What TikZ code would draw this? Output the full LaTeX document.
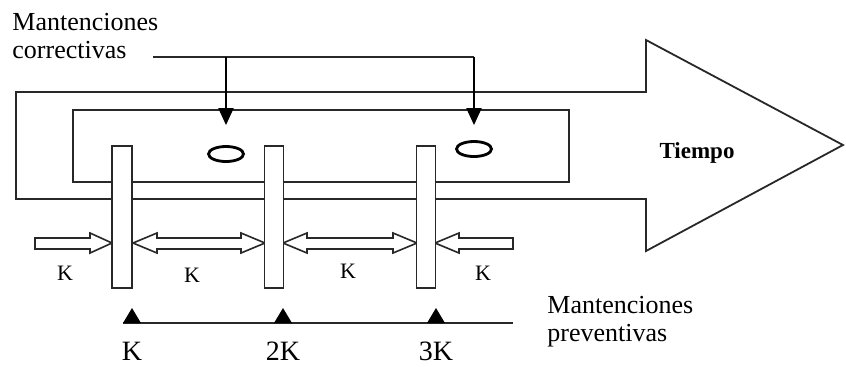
\documentclass[tikz,border=0pt]{standalone}
\usepackage{fontspec}
\setmainfont{Liberation Serif}
\usetikzlibrary{shapes.geometric, arrows.meta, positioning, calc}
\definecolor{mydark}{RGB}{40,40,40}
\tikzset{
  outline/.style={draw=mydark, line width=0.9pt, line join=miter},
  pmbar/.style={rectangle, draw=mydark, fill=white, line width=0.8pt,
    minimum width=9.5pt, minimum height=71pt, inner sep=0pt},
  failmark/.style={ellipse, draw=black, line width=1.4pt,
    minimum width=17.5pt, minimum height=7.5pt, inner sep=0pt},
  blockarrow/.style={draw=mydark, fill=white, line width=0.8pt, line join=miter},
  corrarrow/.style={-{Triangle[length=8.5pt, width=7.5pt]}, line width=1pt, color=black},
  bline/.style={line width=0.8pt, color=mydark},
  klabel/.style={font=\fontsize{11}{12}\selectfont, inner sep=0pt},
  ticklabel/.style={font=\fontsize{14}{15}\selectfont, inner sep=0pt},
  caption/.style={font=\fontsize{13}{14}\selectfont, align=left,
    inner sep=0pt, anchor=north west}
}
\begin{document}
\begin{tikzpicture}[x=0.5pt, y=-0.5pt]
  \useasboundingbox (0,0) rectangle (846,366);

  % ── Time arrow and inner band ──────────────────────────────────────
  \draw[outline] (16,92) -- (646,92) -- (646,40) -- (843,145)
    -- (646,251) -- (646,199) -- (16,199) -- cycle;
  \draw[outline] (73,110) rectangle (569,182);
  \node[font=\fontsize{11.5}{13}\selectfont\bfseries] (tiempo) at (697,153) {Tiempo};

  % ── Interval arrows ────────────────────────────────────────────────
  \draw[blockarrow] (35,238) -- (90,238) -- (90,233) -- (112,243)
    -- (90,253) -- (90,249) -- (35,249) -- cycle;
  \draw[blockarrow] (133,243) -- (157,233) -- (157,238) -- (241,238)
    -- (241,233) -- (265,243) -- (241,253) -- (241,249) -- (157,249)
    -- (157,253) -- cycle;
  \draw[blockarrow] (283,243) -- (307,233) -- (307,238) -- (393,238)
    -- (393,233) -- (417,243) -- (393,253) -- (393,249) -- (307,249)
    -- (307,253) -- cycle;
  \draw[blockarrow] (435,243) -- (459,233) -- (459,238) -- (513,238)
    -- (513,249) -- (459,249) -- (459,253) -- cycle;
  \node[klabel] (k1) at (65,273) {K};
  \node[klabel] (k2) at (192,275) {K};
  \node[klabel] (k3) at (348,271) {K};
  \node[klabel] (k4) at (483,273) {K};

  % ── Preventive maintenance bars ────────────────────────────────────
  \node[pmbar, minimum width=10pt] (pm1) at (122,217) {};
  \node[pmbar] (pm2) at (274,217) {};
  \node[pmbar] (pm3) at (426,217) {};

  % ── Corrective maintenance ─────────────────────────────────────────
  \node[caption] (corrtxt) at (12,13) {Mantenciones\\correctivas};
  \node[failmark] (fail1) at (226,154) {};
  \node[failmark] (fail2) at (474,149) {};
  \coordinate (cstart) at (153,57);
  \coordinate (cbend) at (474,57);
  \draw[bline, line width=1pt] (cstart) -- (cbend);
  \draw[corrarrow, shorten >=10pt] (fail1 |- cstart) -- (fail1.north);
  \draw[corrarrow, shorten >=7.5pt] (cbend) -- (fail2.north);

  % ── Preventive time line ───────────────────────────────────────────
  \draw[bline] (123,323) -- (513,323);
  \foreach \x/\lab [count=\i] in {132/K, 283/2K, 436/3K}{
    \fill (\x-9,323) -- (\x,308) -- (\x+9,323) -- cycle;
    \node[ticklabel] (pmlab\i) at (\x,351) {\lab};
  }
  \node[caption] (prevtxt) at (547,296) {Mantenciones\\preventivas};
\end{tikzpicture}
\end{document}
